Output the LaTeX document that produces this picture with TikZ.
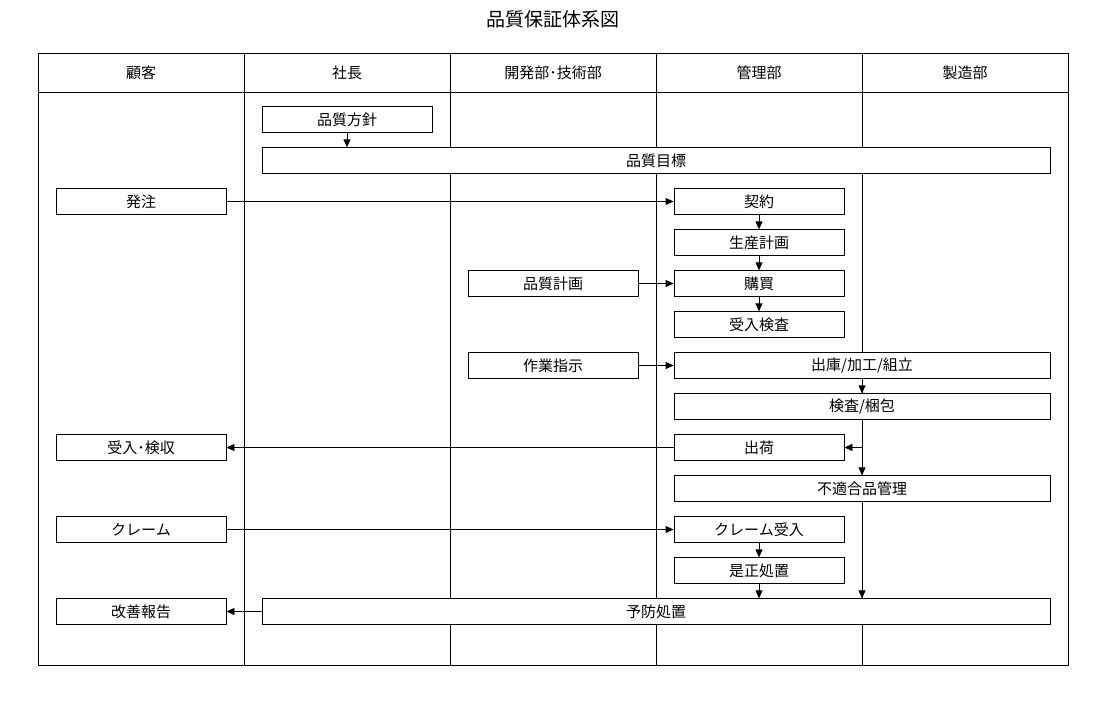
\documentclass[tikz,border=0pt]{standalone}
\usepackage{fontspec}
\setmainfont{Noto Sans CJK JP}
\usetikzlibrary{arrows.meta}
\tikzset{
  box/.style={draw, fill=white, line width=0.8pt, minimum height=25.5pt, inner sep=0pt,
    font=\fontsize{15}{15}\selectfont},
  nbox/.style={box, minimum width=170pt},
  wbox/.style={box, minimum width=376pt},
  arr/.style={line width=0.8pt, -{Triangle[length=8pt,width=7pt]}},
  lane/.style={line width=0.8pt},
  head/.style={font=\fontsize{15}{15}\selectfont},
}
\begin{document}
\begin{tikzpicture}[x=1pt,y=-1pt]
\useasboundingbox (0,0) rectangle (1105,704);
\node[font=\fontsize{19}{19}\selectfont] (title) at (553,19) {品質保証体系図};
% frame and lanes
\draw[lane] (38,53) rectangle (1068,665);
\draw[lane] (38,92) -- (1068,92);
\foreach \x in {244,450,656,862} \draw[lane] (\x,53) -- (\x,665);
\node[head] (h1) at (141,73) {顧客};
\node[head] (h2) at (347,73) {社長};
\node[head] (h3) at (553,73) {開発部･技術部};
\node[head] (h4) at (759,73) {管理部};
\node[head] (h5) at (965,73) {製造部};
% boxes
\node[nbox] (hoshin) at (347,119.5) {品質方針};
\node[box, minimum width=788pt] (mokuhyo) at (656,160.5) {品質目標};
\node[nbox] (hatchu) at (141,201.5) {発注};
\node[nbox] (keiyaku) at (759,201.5) {契約};
\node[nbox] (seisan) at (759,242.5) {生産計画};
\node[nbox] (hinkei) at (553,283.5) {品質計画};
\node[nbox] (kobai) at (759,283.5) {購買};
\node[nbox] (ukeire) at (759,324.5) {受入検査};
\node[nbox] (sagyo) at (553,365.5) {作業指示};
\node[wbox] (shukko) at (862,365.5) {出庫/加工/組立};
\node[wbox] (kensa) at (862,406.5) {検査/梱包};
\node[nbox] (kenshu) at (141,447.5) {受入･検収};
\node[nbox] (shukka) at (759,447.5) {出荷};
\node[wbox] (futeki) at (862,488.5) {不適合品管理};
\node[nbox] (claim) at (141,529.5) {クレーム};
\node[nbox] (cukeire) at (759,529.5) {クレーム受入};
\node[nbox] (zesei) at (759,570.5) {是正処置};
\node[nbox] (kaizen) at (141,611.5) {改善報告};
\node[box, minimum width=788pt] (yobo) at (656,611.5) {予防処置};
% connectors
\draw[arr] (hoshin) -- (hoshin.south |- mokuhyo.north);
\draw[arr] (hatchu) -- (keiyaku);
\draw[arr] (keiyaku) -- (seisan);
\draw[arr] (seisan) -- (kobai);
\draw[arr] (hinkei) -- (kobai);
\draw[arr] (kobai) -- (ukeire);
\draw[arr] (sagyo) -- (shukko);
\draw[arr] (shukko) -- (kensa);
\draw[arr] (kensa) -- (futeki);
\coordinate (br) at (kensa.south |- shukka.east);
\draw[arr] (br) -- (shukka.east);
\draw[arr] (shukka) -- (kenshu);
\draw[arr] (claim) -- (cukeire);
\draw[arr] (cukeire) -- (zesei);
\draw[arr] (zesei) -- (zesei.south |- yobo.north);
\draw[arr] (futeki) -- (futeki.south |- yobo.north);
\draw[arr] (yobo) -- (kaizen);
\end{tikzpicture}
\end{document}
